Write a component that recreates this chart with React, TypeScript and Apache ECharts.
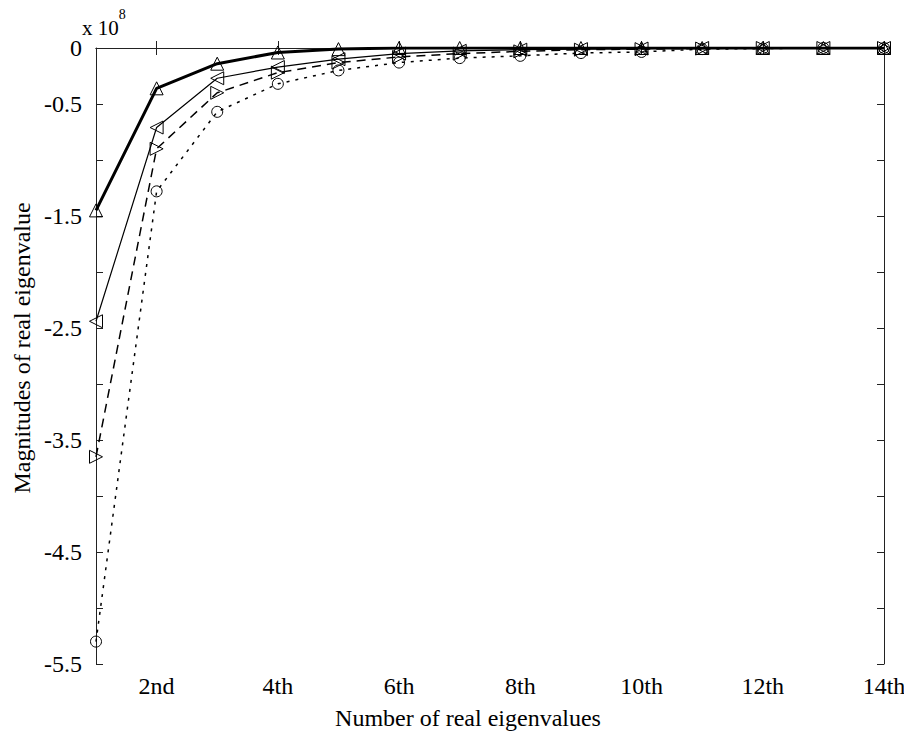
import React, { useEffect, useRef } from "react";
import * as echarts from "echarts";

const categories = ["1st","2nd","3rd","4th","5th","6th","7th","8th","9th","10th","11th","12th","13th","14th"];
const seriesUp = [-1.45, -0.36, -0.14, -0.04, -0.01, 0, 0, 0, 0, 0, 0, 0, 0, 0];
const seriesLeft = [-2.44, -0.71, -0.27, -0.17, -0.10, -0.05, -0.025, -0.015, -0.01, -0.005, 0, 0, 0, 0];
const seriesRight = [-3.65, -0.90, -0.40, -0.22, -0.13, -0.08, -0.05, -0.03, -0.015, -0.01, -0.005, 0, 0, 0];
const seriesCircle = [-5.30, -1.28, -0.57, -0.32, -0.20, -0.13, -0.09, -0.07, -0.045, -0.035, -0.01, -0.005, 0, 0];
const xTitle = "Number of real eigenvalues";
const yTitle = "Magnitudes of real eigenvalue";

const FONT = "Liberation Serif";

export default function App() {
  const ref = useRef<HTMLDivElement>(null);
  useEffect(() => {
    if (!ref.current) return;
    const chart = echarts.init(ref.current, null, { renderer: "svg" });
    const showX = (i: number) => i % 2 === 1;
    const yLabel = (v: number) => {
      const k = Math.round(v * 2);
      if (k === 0) return "0";
      if (Math.abs(k) % 2 === 1) return String(v);
      return "";
    };
    const axisLine = { show: true, lineStyle: { color: "#222", width: 1 } };
    const tick = { show: true, inside: true, length: 7, lineStyle: { color: "#222", width: 1 } };
    const mk = (name: string, data: number[], symbol: string, rotate: number, line: any, size: number) => ({
      name,
      type: "line",
      data,
      symbol,
      symbolSize: size,
      symbolRotate: rotate,
      showAllSymbol: true,
      lineStyle: line,
      itemStyle: { color: "rgba(0,0,0,0)", borderColor: "#000", borderWidth: 1 },
      z: 3,
    });
    chart.setOption({
      animation: false,
      backgroundColor: "#fff",
      grid: { left: 96, right: 20, top: 48, bottom: 69, containLabel: false, outerBoundsMode: "none" },
      xAxis: [
        {
          type: "category",
          data: categories,
          boundaryGap: false,
          axisLine,
          axisTick: { ...tick, interval: (i: number) => showX(i) },
          axisLabel: {
            interval: (i: number) => showX(i),
            fontFamily: FONT,
            fontSize: 24,
            color: "#000",
            margin: 10,
          },
          splitLine: { show: false },
        },
        {
          type: "category",
          data: categories,
          boundaryGap: false,
          position: "top",
          axisLine,
          axisTick: { ...tick, interval: (i: number) => showX(i) },
          axisLabel: { show: false },
          splitLine: { show: false },
        },
      ],
      yAxis: [
        {
          type: "value",
          min: -5.5,
          max: 0,
          interval: 0.5,
          axisLine,
          axisTick: tick,
          axisLabel: {
            formatter: yLabel,
            fontFamily: FONT,
            fontSize: 24,
            color: "#000",
            margin: 14,
          },
          splitLine: { show: false },
        },
        {
          type: "value",
          min: -5.5,
          max: 0,
          interval: 0.5,
          position: "right",
          axisLine,
          axisTick: tick,
          axisLabel: { show: false },
          splitLine: { show: false },
        },
      ],
      graphic: [
        {
          type: "text",
          left: 82,
          top: 7,
          style: {
            text: "{a|x 10}{b|8}",
            rich: {
              a: { fontFamily: FONT, fontSize: 21, fill: "#000", padding: [10, 0, 0, 0] },
              b: { fontFamily: FONT, fontSize: 14, fill: "#000", verticalAlign: "top" },
            },
          },
        },
        {
          type: "text",
          x: 468,
          y: 718,
          style: {
            text: xTitle,
            fontFamily: FONT,
            fontSize: 24,
            fill: "#000",
            align: "center",
            verticalAlign: "middle",
          },
        },
        {
          type: "text",
          x: 22,
          y: 348,
          rotation: Math.PI / 2,
          style: {
            text: yTitle,
            fontFamily: FONT,
            fontSize: 24,
            fill: "#000",
            align: "center",
            verticalAlign: "middle",
          },
        },
      ],
      series: [
        mk("circle", seriesCircle, "circle", 0, { color: "#000", width: 1.5, type: [3, 6] }, 11),
        mk("right", seriesRight, "triangle", -90, { color: "#000", width: 1.5, type: [9, 6] }, 13),
        mk("left", seriesLeft, "triangle", 90, { color: "#000", width: 1.2, type: "solid" }, 13),
        mk("up", seriesUp, "triangle", 0, { color: "#000", width: 3, type: "solid" }, 13),
      ],
    });
    return () => chart.dispose();
  }, []);
  return (
    <div
      ref={ref}
      style={{ position: "fixed", left: 0, top: 0, width: 904, height: 733, background: "#fff" }}
    />
  );
}
